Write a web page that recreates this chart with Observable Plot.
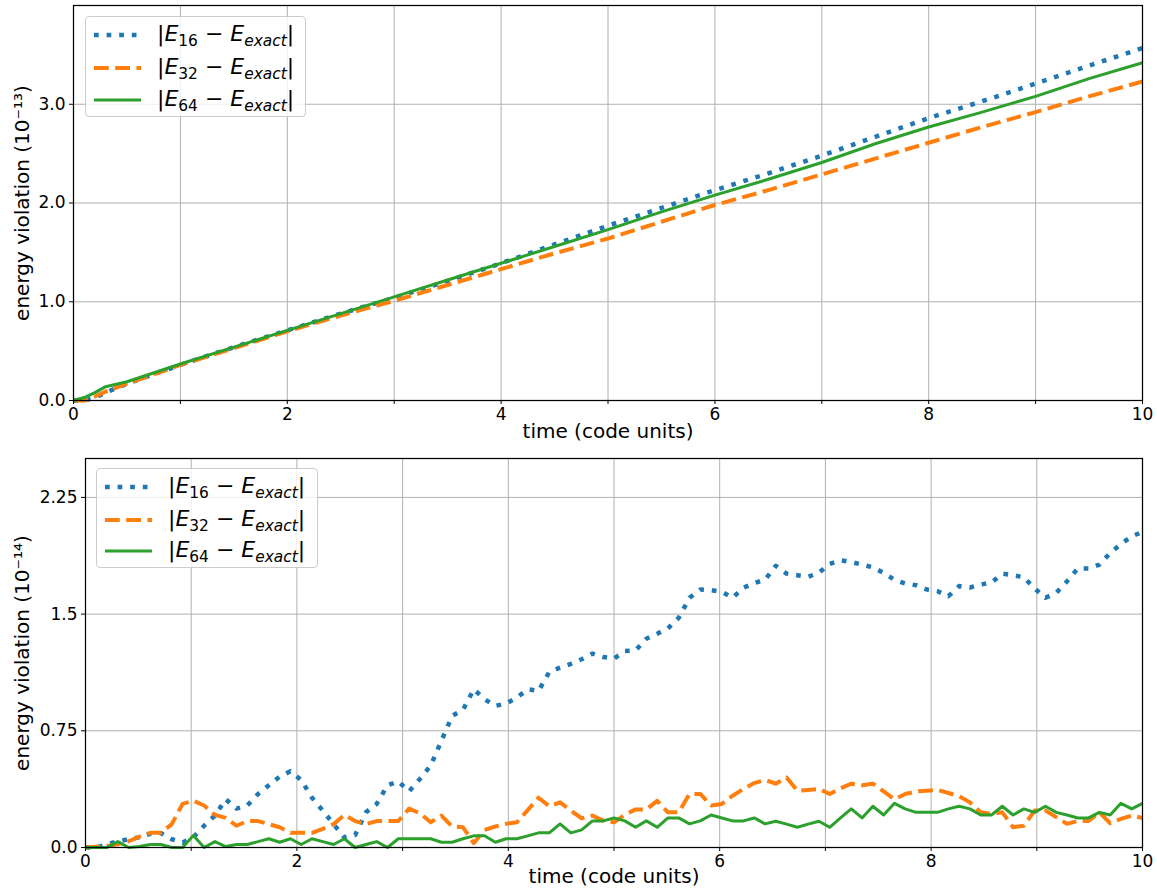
<!DOCTYPE html>
<html><head><meta charset="utf-8">
<script src="https://cdn.jsdelivr.net/npm/d3@7"></script>
<script src="https://cdn.jsdelivr.net/npm/@observablehq/plot@0.6"></script>
<style>
body{margin:0;background:#fff;font-family:"DejaVu Sans",sans-serif;}
#wrap{position:relative;width:1157px;height:891px;}
#wrap svg{display:block;}
.legend{position:absolute;background:rgba(255,255,255,0.8);border:1px solid #cccccc;border-radius:4px;box-sizing:border-box;}
.row{position:absolute;left:0;height:0;width:100%;}
.row svg{position:absolute;left:8px;top:-5px;}
.row .lab{position:absolute;left:71px;top:0;transform:translateY(-52%);font-size:22px;white-space:nowrap;line-height:1.2;color:#000;}
.lab sub{font-size:0.7em;vertical-align:-0.3em;line-height:0;}
</style></head>
<body>
<div id="wrap"></div>
<script>
// ---------- data ----------
const seriesLabels = ["16", "32", "64"];
const colors = ["#1f77b4", "#ff7f0e", "#2ca02c"];

// top panel (units of 1e-13)
const topTime = [0, 0.1, 0.2, 0.3, 0.5, 1, 1.5, 2, 2.5, 3, 3.5, 4, 4.5, 5, 5.5, 6, 6.5, 7, 7.5, 8, 8.5, 9, 9.5, 10];
const topE16 = [0, 0, 0.03, 0.08, 0.17, 0.36, 0.54, 0.71, 0.88, 1.04, 1.21, 1.39, 1.58, 1.77, 1.95, 2.13, 2.30, 2.48, 2.67, 2.86, 3.03, 3.21, 3.39, 3.57];
const topE32 = [0, 0, 0.04, 0.09, 0.17, 0.36, 0.53, 0.70, 0.86, 1.01, 1.17, 1.33, 1.49, 1.64, 1.81, 1.98, 2.13, 2.29, 2.45, 2.61, 2.77, 2.92, 3.08, 3.23];
const topE64 = [0, 0.03, 0.08, 0.14, 0.19, 0.37, 0.54, 0.71, 0.88, 1.05, 1.22, 1.39, 1.56, 1.73, 1.91, 2.08, 2.24, 2.41, 2.60, 2.77, 2.92, 3.08, 3.26, 3.42];

// bottom panel (units of 1e-14), equally spaced samples over [0, 10]
const botE16 = [0, 0, 0.02, 0.04, 0.053, 0.066, 0.088, 0.092, 0.053, 0.032,
  0.066, 0.14, 0.205, 0.31, 0.25, 0.27, 0.344, 0.40, 0.455, 0.49,
  0.434, 0.32, 0.237, 0.15, 0.065, 0.08, 0.226, 0.28, 0.40, 0.425,
  0.36, 0.44, 0.526, 0.686, 0.846, 0.885, 1.017, 0.953, 0.91, 0.925,
  0.964, 1.017, 1.006, 1.128, 1.156, 1.18, 1.21, 1.246, 1.224, 1.214,
  1.263, 1.267, 1.342, 1.374, 1.408, 1.476, 1.605, 1.658, 1.654, 1.643,
  1.605, 1.669, 1.70, 1.72, 1.81, 1.76, 1.75, 1.74, 1.765, 1.823,
  1.846, 1.835, 1.818, 1.80, 1.765, 1.72, 1.697, 1.686, 1.658, 1.647,
  1.615, 1.68, 1.671, 1.69, 1.703, 1.76, 1.75, 1.737, 1.665, 1.605,
  1.637, 1.71, 1.793, 1.793, 1.818, 1.893, 1.95, 2.0, 2.028];
const botE32 = [0, 0.005, 0.01, 0.02, 0.04, 0.07, 0.094, 0.094, 0.15, 0.28,
  0.30, 0.27, 0.21, 0.19, 0.14, 0.17, 0.17, 0.15, 0.13, 0.094,
  0.094, 0.094, 0.12, 0.15, 0.21, 0.17, 0.15, 0.17, 0.17, 0.17,
  0.25, 0.22, 0.162, 0.205, 0.135, 0.13, 0.028, 0.113, 0.135, 0.152,
  0.162, 0.24, 0.32, 0.265, 0.29, 0.237, 0.188, 0.205, 0.173, 0.162,
  0.21, 0.245, 0.245, 0.30, 0.226, 0.226, 0.344, 0.344, 0.27, 0.28,
  0.333, 0.376, 0.414, 0.434, 0.41, 0.45, 0.365, 0.37, 0.376, 0.344,
  0.38, 0.41, 0.40, 0.41, 0.36, 0.31, 0.344, 0.36, 0.365, 0.37,
  0.35, 0.33, 0.29, 0.226, 0.216, 0.226, 0.13, 0.14, 0.237, 0.237,
  0.195, 0.152, 0.17, 0.17, 0.226, 0.156, 0.184, 0.205, 0.19];
const botE64 = [0, 0, 0, 0.038, 0, 0.006, 0.019, 0.019, 0, 0,
  0.077, 0, 0.038, 0.006, 0.019, 0.019, 0.038, 0.056, 0.034, 0.056,
  0.019, 0.056, 0.038, 0.019, 0.056, 0, 0.019, 0.038, 0, 0.056,
  0.056, 0.056, 0.056, 0.034, 0.034, 0.056, 0.075, 0.075, 0.034, 0.056,
  0.056, 0.075, 0.094, 0.094, 0.152, 0.094, 0.113, 0.171, 0.171, 0.19,
  0.171, 0.130, 0.171, 0.130, 0.19, 0.19, 0.152, 0.171, 0.209, 0.19,
  0.171, 0.171, 0.19, 0.152, 0.169, 0.15, 0.13, 0.15, 0.169, 0.13,
  0.19, 0.248, 0.19, 0.265, 0.209, 0.284, 0.248, 0.226, 0.226, 0.226,
  0.248, 0.265, 0.248, 0.209, 0.209, 0.265, 0.209, 0.248, 0.226, 0.265,
  0.226, 0.209, 0.19, 0.19, 0.226, 0.209, 0.284, 0.248, 0.284];
const botTime = d3.range(botE16.length).map(i => i * 10 / (botE16.length - 1));

// ticks
const xTicks = [0, 1, 2, 3, 4, 5, 6, 7, 8, 9, 10];
const xTickLabels = [0, 2, 4, 6, 8, 10];
const topYTicks = [0, 1, 2, 3];
const topYTickLabels = ["0.0", "1.0", "2.0", "3.0"];
const botYTicks = [0, 0.75, 1.5, 2.25];
const botYTickLabels = ["0.0", "0.75", "1.5", "2.25"];
const xLabel = "time (code units)";
const topYLabel = "energy violation (10\u207B\u00B9\u00B3)";
const botYLabel = "energy violation (10\u207B\u00B9\u2074)";

// ---------- drawing ----------
const lineStyles = [
  {strokeWidth: 4.5, strokeDasharray: "4.7,7.9"},
  {strokeWidth: 4, strokeDasharray: "14.8,6.4"},
  {strokeWidth: 3}
];

function panel(o) {
  const lines = o.series.map((vals, k) =>
    Plot.line(vals.map((v, i) => ({t: o.time[i], v})), {
      x: "t", y: "v", stroke: colors[k], ...lineStyles[k],
      strokeLinecap: "butt", strokeLinejoin: "round"
    }));
  return Plot.plot({
    width: 1157, height: o.height,
    marginTop: o.mt, marginBottom: o.mb, marginLeft: o.ml, marginRight: o.mr,
    style: {fontFamily: "DejaVu Sans", fontSize: "17px", color: "black", background: "white", overflow: "visible"},
    x: {domain: [0, 10]},
    y: {domain: o.yDomain},
    marks: [
      Plot.ruleX(xTicks, {stroke: "#b0b0b0", strokeWidth: 1}),
      Plot.ruleY(o.yTicks, {stroke: "#b0b0b0", strokeWidth: 1}),
      ...lines,
      Plot.frame({stroke: "black", strokeWidth: 1.25}),
      Plot.axisX({ticks: xTicks, tickSize: 4, tickPadding: 3, label: null,
        tickFormat: d => xTickLabels.includes(d) ? String(d) : ""}),
      Plot.axisY({ticks: o.yTicks, tickSize: 4, tickPadding: 4, label: null,
        tickFormat: d => o.yTickLabels[o.yTicks.indexOf(d)]}),
      Plot.text([xLabel], {text: d => d, frameAnchor: "bottom", textAnchor: "middle", dy: o.xlabDy, fontSize: 20}),
      Plot.text([o.yLabel], {text: d => d, frameAnchor: "left", textAnchor: "middle", rotate: -90, dx: o.ylabDx, fontSize: 20})
    ]
  });
}

const wrap = document.getElementById("wrap");
wrap.appendChild(panel({
  time: topTime, series: [topE16, topE32, topE64], yDomain: [0, 4.0],
  yTicks: topYTicks, yTickLabels: topYTickLabels, yLabel: topYLabel,
  height: 445, mt: 5, mb: 45, ml: 73, mr: 15, xlabDy: 37, ylabDx: -51
}));
wrap.appendChild(panel({
  time: botTime, series: [botE16, botE32, botE64], yDomain: [0, 2.5],
  yTicks: botYTicks, yTickLabels: botYTickLabels, yLabel: botYLabel,
  height: 446, mt: 13, mb: 44, ml: 85, mr: 15, xlabDy: 35, ylabDx: -63
}));

// legends
function legend(left, top, width, height, rowYs) {
  const box = document.createElement("div");
  box.className = "legend";
  Object.assign(box.style, {left: left + "px", top: top + "px", width: width + "px", height: height + "px"});
  seriesLabels.forEach((lab, k) => {
    const row = document.createElement("div");
    row.className = "row";
    row.style.top = rowYs[k] + "px";
    const st = lineStyles[k];
    row.innerHTML =
      `<svg width="48" height="10"><line x1="0" y1="5" x2="47" y2="5" stroke="${colors[k]}" stroke-width="${st.strokeWidth}" ${st.strokeDasharray ? `stroke-dasharray="${st.strokeDasharray}"` : ""} stroke-linecap="butt"/></svg>` +
      `<span class="lab">|<i>E</i><sub>${lab}</sub> \u2212 <i>E</i><sub><i>exact</i></sub>|</span>`;
    box.appendChild(row);
  });
  wrap.appendChild(box);
}
legend(85, 16, 221, 101, [18, 51, 83]);
legend(96, 468, 222, 100, [17.5, 50.5, 82]);
</script>
</body></html>
